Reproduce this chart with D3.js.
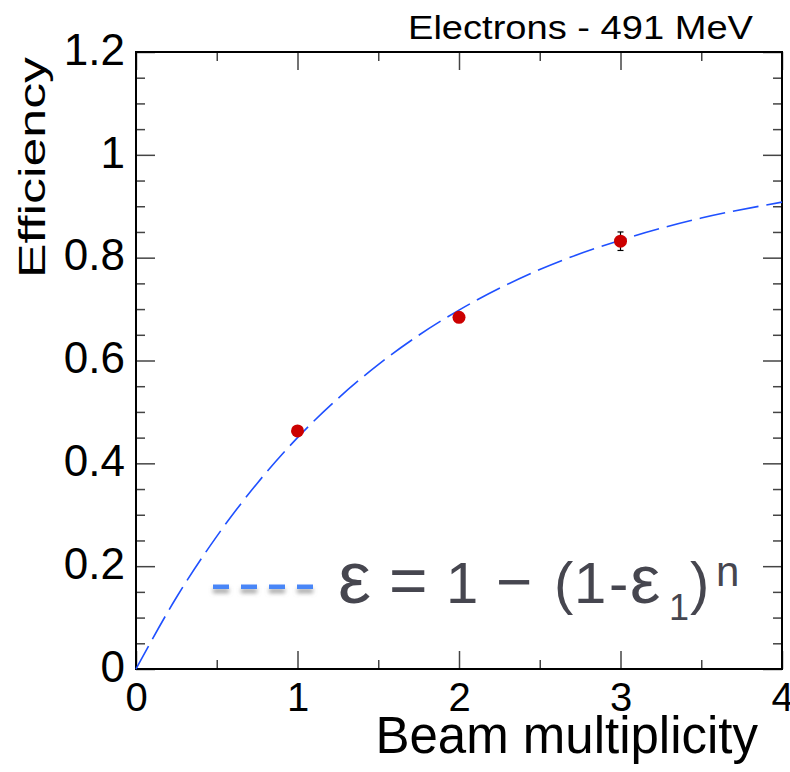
<!DOCTYPE html>
<html>
<head>
<meta charset="utf-8">
<script src="https://cdn.jsdelivr.net/npm/d3@7"></script>
<style>
  body { margin: 0; background: #fff; }
  svg { display: block; font-family: "Liberation Sans", Arial, Helvetica, sans-serif; }
</style>
</head>
<body>
<div id="chart"></div>
<script>
// measured points
const multiplicity = [1, 2, 3];
const efficiency = [0.463, 0.684, 0.832];
const efficiencyErr = [0.004, 0.004, 0.018];

// fit curve
const fitN = [0, 0.25, 0.5, 0.75, 1, 1.25, 1.5, 1.75, 2, 2.5, 3, 3.5, 4];
const fitEff = [0, 0.139, 0.258, 0.361, 0.45, 0.526, 0.592, 0.649, 0.698, 0.777, 0.834, 0.877, 0.908];

// ticks
const xMajor = [0, 1, 2, 3, 4];
const xMinor = [0.5, 1.5, 2.5, 3.5];
const yMajor = [0, 0.2, 0.4, 0.6, 0.8, 1, 1.2];
const yMinor = d3.range(0, 1.2001, 0.05).filter(v => Math.abs(v * 5 - Math.round(v * 5)) > 1e-6);

const width = 790, height = 772;
const margin = { top: 52, right: 8, bottom: 103, left: 136 };

const svg = d3.select('#chart')
  .append('svg')
  .attr('width', width)
  .attr('height', height);

const x = d3.scaleLinear().domain([0, 4]).range([margin.left, width - margin.right]);
const y = d3.scaleLinear().domain([0, 1.2]).range([height - margin.bottom, margin.top]);

const defs = svg.append('defs');
const shadow = defs.append('filter').attr('id', 'shadow')
  .attr('x', '-30%').attr('y', '-100%').attr('width', '160%').attr('height', '400%');
shadow.append('feDropShadow')
  .attr('dx', 0).attr('dy', 4).attr('stdDeviation', 2)
  .attr('flood-color', '#888').attr('flood-opacity', 0.8);

// axes: inward ticks on all four sides
function styleAxis(g) {
  g.select('.domain').remove();
  g.selectAll('.tick line').attr('stroke', '#444').attr('stroke-width', 1.5);
  g.selectAll('.tick text').attr('fill', '#000');
}

const bottomY = y(0), topY = y(1.2), leftX = x(0), rightX = x(4);

svg.append('g')
  .attr('transform', `translate(0,${bottomY})`)
  .call(d3.axisBottom(x).tickValues(xMajor).tickSize(-18).tickPadding(14).tickFormat(d3.format('d')))
  .call(styleAxis)
  .call(g => g.selectAll('.tick text').attr('font-size', 40).attr('dy', '0.71em'));
svg.append('g')
  .attr('transform', `translate(0,${bottomY})`)
  .call(d3.axisBottom(x).tickValues(xMinor).tickSize(-9).tickFormat(''))
  .call(styleAxis);
svg.append('g')
  .attr('transform', `translate(0,${topY})`)
  .call(d3.axisTop(x).tickValues(xMajor).tickSize(-18).tickFormat(''))
  .call(styleAxis);
svg.append('g')
  .attr('transform', `translate(0,${topY})`)
  .call(d3.axisTop(x).tickValues(xMinor).tickSize(-9).tickFormat(''))
  .call(styleAxis);

svg.append('g')
  .attr('transform', `translate(${leftX},0)`)
  .call(d3.axisLeft(y).tickValues(yMajor).tickSize(-19).tickPadding(11).tickFormat(d => d === 0 || d === 1 ? d3.format('d')(d) : d3.format('.1f')(d)))
  .call(styleAxis)
  .call(g => g.selectAll('.tick text').attr('font-size', 44).attr('dy', '0.28em'));
svg.append('g')
  .attr('transform', `translate(${leftX},0)`)
  .call(d3.axisLeft(y).tickValues(yMinor).tickSize(-9).tickFormat(''))
  .call(styleAxis);
svg.append('g')
  .attr('transform', `translate(${rightX},0)`)
  .call(d3.axisRight(y).tickValues(yMajor).tickSize(-19).tickFormat(''))
  .call(styleAxis);
svg.append('g')
  .attr('transform', `translate(${rightX},0)`)
  .call(d3.axisRight(y).tickValues(yMinor).tickSize(-9).tickFormat(''))
  .call(styleAxis);

// frame
svg.append('rect')
  .attr('x', leftX).attr('y', topY)
  .attr('width', rightX - leftX).attr('height', bottomY - topY)
  .attr('fill', 'none').attr('stroke', '#000').attr('stroke-width', 2);

// fit curve
const line = d3.line()
  .x((d, i) => x(fitN[i]))
  .y(d => y(d))
  .curve(d3.curveMonotoneX);

svg.append('path')
  .datum(fitEff)
  .attr('d', line)
  .attr('fill', 'none')
  .attr('stroke', '#1f50ff')
  .attr('stroke-width', 1.6)
  .attr('stroke-dasharray', '26,8');

// error bars + points
const pts = svg.append('g');
multiplicity.forEach((m, i) => {
  const cx = x(m);
  const y0 = y(efficiency[i] - efficiencyErr[i]);
  const y1 = y(efficiency[i] + efficiencyErr[i]);
  pts.append('line').attr('x1', cx).attr('x2', cx).attr('y1', y0).attr('y2', y1)
    .attr('stroke', '#000').attr('stroke-width', 1.2);
  [y0, y1].forEach(yy => pts.append('line')
    .attr('x1', cx - 3).attr('x2', cx + 3).attr('y1', yy).attr('y2', yy)
    .attr('stroke', '#000').attr('stroke-width', 1.2));
});
pts.selectAll('circle')
  .data(multiplicity)
  .enter()
  .append('circle')
  .attr('cx', d => x(d))
  .attr('cy', (d, i) => y(efficiency[i]))
  .attr('r', 6.5)
  .attr('fill', '#cc0000');

// legend: dashes + formula
const legend = svg.append('g').attr('filter', 'url(#shadow)');
[213, 241, 269, 297].forEach(lx => {
  legend.append('rect')
    .attr('x', lx).attr('y', 584.5)
    .attr('width', 16).attr('height', 4.5)
    .attr('fill', '#4a86f7');
});

// formula pieces laid out glyph by glyph to match the wide original setting
const formulaPieces = [
  { t: 'ε', x: 338, y: 603, s: 74 },
  { t: '=', x: 389, y: 603, s: 66 },
  { t: '1', x: 446, y: 603, s: 58 },
  { t: '−', x: 496, y: 603, s: 62 },
  { t: '(', x: 554, y: 603, s: 58 },
  { t: '1', x: 574, y: 603, s: 58 },
  { t: '-', x: 609, y: 603, s: 58 },
  { t: 'ε', x: 630, y: 603, s: 68 },
  { t: '1', x: 669, y: 620, s: 36 },
  { t: ')', x: 690, y: 603, s: 58 },
  { t: 'n', x: 716, y: 586, s: 42 }
];
svg.append('g')
  .attr('fill', '#46464f')
  .selectAll('text')
  .data(formulaPieces)
  .enter()
  .append('text')
  .attr('x', d => d.x)
  .attr('y', d => d.y)
  .attr('font-size', d => d.s)
  .text(d => d.t);

// titles
svg.append('text')
  .attr('x', 408).attr('y', 39)
  .attr('font-size', 33)
  .attr('textLength', 345)
  .attr('lengthAdjust', 'spacingAndGlyphs')
  .text('Electrons - 491 MeV');

svg.append('text')
  .attr('x', 758).attr('y', 753)
  .attr('text-anchor', 'end')
  .attr('font-size', 51)
  .text('Beam multiplicity');

svg.append('text')
  .attr('transform', 'translate(45,278) rotate(-90)')
  .attr('font-size', 36)
  .attr('textLength', 221)
  .attr('lengthAdjust', 'spacingAndGlyphs')
  .text('Efficiency');
</script>
</body>
</html>
